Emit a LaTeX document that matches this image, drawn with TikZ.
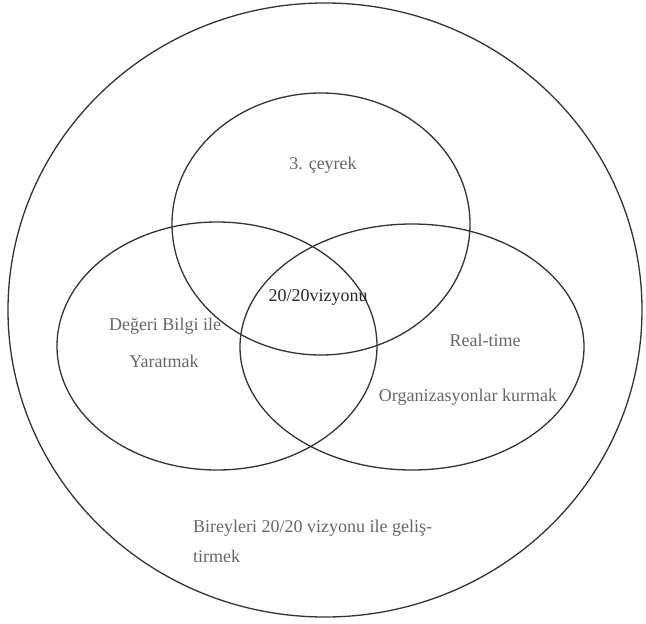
\documentclass[tikz,border=0pt]{standalone}
\usepackage{fontspec}
\setmainfont{Liberation Serif}
\begin{document}
\begin{tikzpicture}[x=1pt,y=-1pt,
  ring/.style={draw=black!80, line width=1.3pt},
  lbl/.style={text=black!60, font=\fontsize{18}{20}\selectfont, inner sep=0pt}]
\useasboundingbox (0,0) rectangle (646,624);
% outer circle
\draw[ring] (325,310) ellipse [x radius=317, y radius=307];
% top ellipse
\draw[ring] (321,224) ellipse [x radius=149, y radius=131];
% left ellipse
\draw[ring] (217,346) ellipse [x radius=160, y radius=124];
% right ellipse
\draw[ring] (412,347) ellipse [x radius=172, y radius=123];
% labels
\node[lbl] (q) at (323,165) {3. çeyrek};
\node[lbl, text=black!85] (v) at (318,297) {20/20vizyonu};
\node[lbl] (d1) at (165,326) {Değeri Bilgi ile};
\node[lbl] (d2) at (164,361) {Yaratmak};
\node[lbl] (r1) at (485,340) {Real-time};
\node[lbl] (r2) at (468,397) {Organizasyonlar kurmak};
\node[lbl, anchor=west] (b1) at (193,528) {Bireyleri 20/20 vizyonu ile geliş-};
\node[lbl, anchor=west] (b2) at (193,556) {tirmek};
\end{tikzpicture}
\end{document}
